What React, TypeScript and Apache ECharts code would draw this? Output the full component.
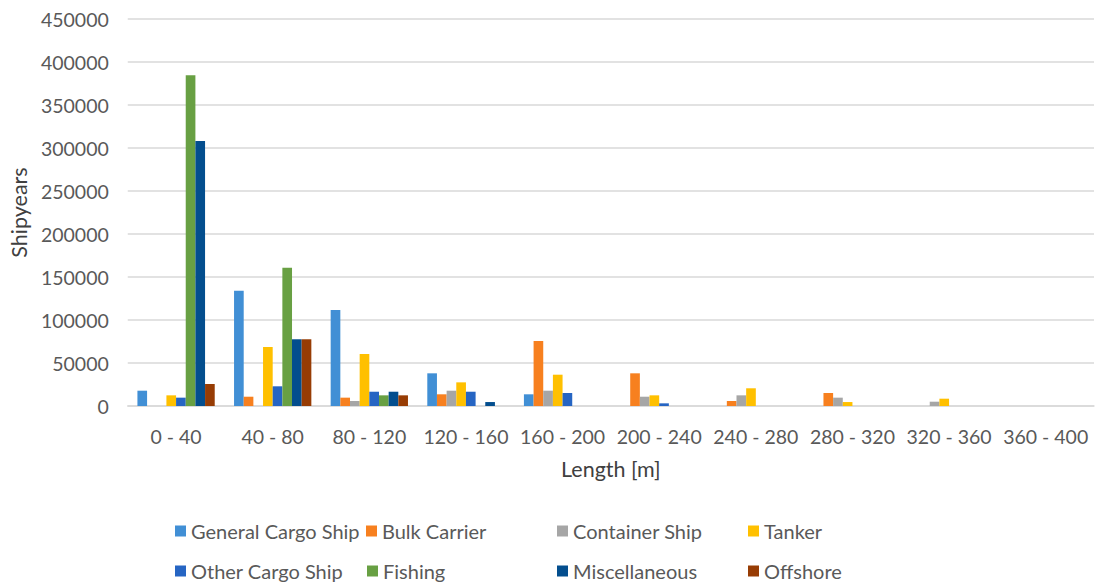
import React, { useEffect, useRef } from "react";
import * as echarts from "echarts";

const categories = ["0 - 40", "40 - 80", "80 - 120", "120 - 160", "160 - 200", "200 - 240", "240 - 280", "280 - 320", "320 - 360", "360 - 400"];
const seriesNames = ["General Cargo Ship", "Bulk Carrier", "Container Ship", "Tanker", "Other Cargo Ship", "Fishing", "Miscellaneous", "Offshore"];
const generalCargo = [17800, 134000, 111600, 38000, 13600, 0, 0, 0, 0, 0];
const bulkCarrier = [0, 10800, 9700, 13600, 75600, 38000, 5800, 15100, 0, 0];
const containerShip = [0, 0, 5800, 17800, 17800, 10800, 12400, 9700, 5000, 0];
const tanker = [12400, 68600, 60500, 27500, 36400, 12400, 20600, 4600, 8500, 0];
const otherCargo = [9700, 22900, 16600, 16600, 15100, 3100, 0, 0, 0, 0];
const fishing = [384600, 160800, 12400, 0, 0, 0, 0, 0, 0, 0];
const miscellaneous = [308000, 77600, 16600, 4600, 0, 0, 0, 0, 0, 0];
const offshore = [25600, 77600, 12400, 0, 0, 0, 0, 0, 0, 0];
const yTicks = [0, 50000, 100000, 150000, 200000, 250000, 300000, 350000, 400000, 450000];

const allData = [generalCargo, bulkCarrier, containerShip, tanker, otherCargo, fishing, miscellaneous, offshore];
const colors = ["#418FD5", "#F7801F", "#A6A6A6", "#FFC000", "#2665C3", "#68A043", "#034E8E", "#973C04"];

const FONT = "Lato, 'Noto Sans', sans-serif";

export default function App() {
  const ref = useRef<HTMLDivElement>(null);
  useEffect(() => {
    if (!ref.current) return;
    const chart = echarts.init(ref.current, null, { renderer: "svg" });
    const legendPos = [
      [175, 533], [366, 533], [557, 533], [748, 533],
      [175, 573], [367, 573], [557, 573], [748, 573],
    ];
    const legends = seriesNames.map((n, i) => ({
      data: [n],
      left: legendPos[i][0],
      top: legendPos[i][1] - 12,
      itemWidth: 11,
      itemHeight: 11,
      icon: "rect",
      itemGap: 0,
      padding: 0,
      textStyle: { fontFamily: FONT, fontSize: 20, color: "#595959" },
    }));
    chart.setOption({
      animation: false,
      color: colors,
      textStyle: { fontFamily: FONT },
      grid: { left: 127, right: 5, top: 19, bottom: 179, containLabel: false },
      legend: legends,
      xAxis: {
        type: "category",
        data: categories,
        name: "Length [m]",
        nameLocation: "middle",
        nameGap: 52,
        nameTextStyle: { fontFamily: FONT, fontSize: 21.5, color: "#404040" },
        axisLine: { lineStyle: { color: "#D9D9D9", width: 1.5 } },
        axisTick: { show: false },
        axisLabel: { fontFamily: FONT, fontSize: 19.5, color: "#595959", margin: 20, interval: 0 },
      },
      yAxis: {
        type: "value",
        min: yTicks[0],
        max: yTicks[yTicks.length - 1],
        interval: yTicks[1] - yTicks[0],
        name: "Shipyears",
        nameLocation: "middle",
        nameGap: 97,
        nameTextStyle: { fontFamily: FONT, fontSize: 21.5, color: "#404040" },
        axisLine: { show: false },
        axisTick: { show: false },
        axisLabel: { fontFamily: FONT, fontSize: 19.5, color: "#595959", margin: 19, formatter: (v: number) => String(v) },
        splitLine: { lineStyle: { color: "#D9D9D9", width: 1.5 } },
      },
      series: seriesNames.map((n, i) => ({
        name: n,
        type: "bar",
        data: allData[i],
        barGap: "0%",
        barCategoryGap: "20%",
      })),
    });
    return () => chart.dispose();
  }, []);
  return <div ref={ref} style={{ width: 1099, height: 585, position: "absolute", left: 0, top: 0 }} />;
}
